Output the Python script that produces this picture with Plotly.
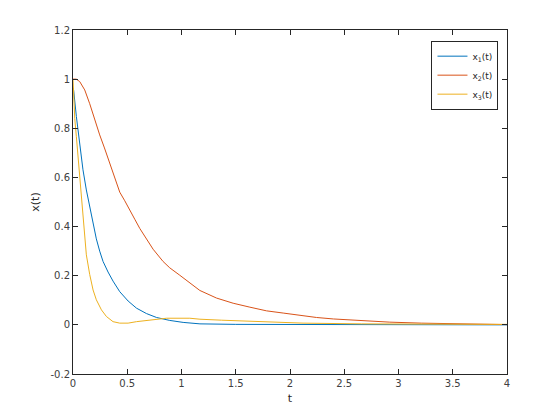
import plotly.graph_objects as go

# x1(t)
t1 = [0, 0.006, 0.031, 0.062, 0.092, 0.123, 0.154, 0.185, 0.215, 0.246, 0.277, 0.323, 0.369,
      0.431, 0.508, 0.585, 0.677, 0.77, 0.892, 1.015, 1.17, 1.5, 2.0, 3.0, 4.0]
x1 = [0.965, 0.955, 0.848, 0.726, 0.631, 0.549, 0.481, 0.414, 0.350, 0.300, 0.258, 0.215, 0.178,
      0.135, 0.097, 0.068, 0.046, 0.030, 0.018, 0.010, 0.004, 0.002, 0.001, 0.0, 0.0]

# x2(t)
t2 = [0, 0.03, 0.062, 0.108, 0.154, 0.2, 0.246, 0.29, 0.339, 0.385, 0.431, 0.477, 0.523, 0.569,
      0.616, 0.677, 0.738, 0.83, 0.892, 0.984, 1.07, 1.169, 1.323, 1.476, 1.63, 1.784, 1.937,
      2.09, 2.245, 2.40, 2.55, 2.66, 2.92, 3.21, 3.61, 4.0]
x2 = [1.0, 1.0, 0.99, 0.956, 0.90, 0.834, 0.773, 0.72, 0.658, 0.597, 0.540, 0.505, 0.470, 0.430,
      0.392, 0.348, 0.308, 0.258, 0.232, 0.202, 0.172, 0.140, 0.109, 0.088, 0.072, 0.057, 0.048,
      0.038, 0.030, 0.024, 0.020, 0.016, 0.011, 0.007, 0.003, 0.001]

# x3(t)
t3 = [0, 0.005, 0.016, 0.031, 0.046, 0.062, 0.077, 0.092, 0.108, 0.123, 0.154, 0.185, 0.215,
      0.262, 0.308, 0.369, 0.431, 0.508, 0.585, 0.708, 0.862, 1.077, 1.17, 1.37, 1.6, 1.9, 2.12,
      2.66, 3.2, 4.0]
x3 = [1.0, 0.92, 0.84, 0.766, 0.685, 0.59, 0.509, 0.427, 0.359, 0.285, 0.205, 0.142, 0.102,
      0.061, 0.034, 0.013, 0.007, 0.007, 0.013, 0.020, 0.027, 0.027, 0.023, 0.019, 0.015, 0.011,
      0.007, 0.004, 0.003, 0.002]

names = ["x<sub>1</sub>(t)", "x<sub>2</sub>(t)", "x<sub>3</sub>(t)"]
colors = ["#0072BD", "#D95319", "#EDB120"]

x_ticks = [0, 0.5, 1, 1.5, 2, 2.5, 3, 3.5, 4]
x_ticklabels = ["0", "0.5", "1", "1.5", "2", "2.5", "3", "3.5", "4"]
y_ticks = [-0.2, 0, 0.2, 0.4, 0.6, 0.8, 1.0, 1.2]
y_ticklabels = ["-0.2", "0", "0.2", "0.4", "0.6", "0.8", "1", "1.2"]

fig = go.Figure()
for tt, xx, nm, c in zip([t1, t2, t3], [x1, x2, x3], names, colors):
    fig.add_trace(go.Scatter(x=tt, y=xx, mode="lines", name=nm,
                             line=dict(color=c, width=1)))

axis_common = dict(showgrid=False, zeroline=False, showline=True, linecolor="#262626",
                   linewidth=1, mirror="ticks", ticks="inside", ticklen=5,
                   tickcolor="#262626", tickfont=dict(size=10, color="#404040"))

fig.update_layout(
    width=560, height=420,
    margin=dict(l=65, r=61, t=22, b=54),
    paper_bgcolor="white", plot_bgcolor="white",
    font=dict(family="DejaVu Sans", color="#262626"),
    xaxis=dict(range=[0, 4], tickvals=x_ticks, ticktext=x_ticklabels,
               title=dict(text="t", font=dict(size=11), standoff=6), **axis_common),
    yaxis=dict(range=[-0.2, 1.2], tickvals=y_ticks, ticktext=y_ticklabels,
               title=dict(text="x(t)", font=dict(size=11), standoff=8), **axis_common),
    legend=dict(x=0.826, y=0.969, xanchor="left", yanchor="top",
                bordercolor="#262626", borderwidth=1, bgcolor="white",
                font=dict(size=9, color="#262626"), itemwidth=30,
                tracegroupgap=0),
    showlegend=True,
)

fig.write_html("out.html")
